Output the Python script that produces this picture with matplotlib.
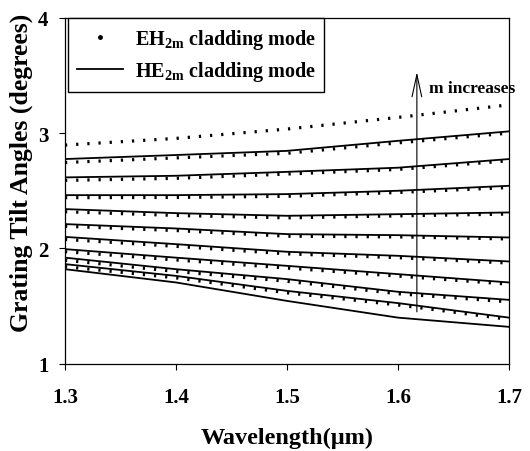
import matplotlib.pyplot as plt
from matplotlib.lines import Line2D

plt.rcParams['font.family'] = 'Liberation Serif'
plt.rcParams['font.weight'] = 'bold'
plt.rcParams['mathtext.fontset'] = 'custom'
plt.rcParams['mathtext.rm'] = 'Liberation Serif:bold'
plt.rcParams['mathtext.bf'] = 'Liberation Serif:bold'

# Wavelength (um) and grating tilt angles (degrees)
wavelength = [1.3, 1.4, 1.5, 1.6, 1.7]

he_modes = [
    [2.775, 2.810, 2.846, 2.933, 3.015],
    [2.616, 2.630, 2.664, 2.700, 2.775],
    [2.462, 2.462, 2.471, 2.500, 2.543],
    [2.341, 2.306, 2.283, 2.297, 2.312],
    [2.211, 2.173, 2.124, 2.115, 2.095],
    [2.100, 2.037, 1.971, 1.936, 1.887],
    [1.994, 1.920, 1.849, 1.777, 1.705],
    [1.920, 1.820, 1.734, 1.624, 1.554],
    [1.864, 1.762, 1.632, 1.526, 1.400],
    [1.820, 1.705, 1.545, 1.400, 1.320],
]

eh_modes = [
    [2.896, 2.954, 3.035, 3.136, 3.245],
    [2.745, 2.785, 2.825, 2.915, 3.000],
    [2.590, 2.608, 2.645, 2.685, 2.760],
    [2.440, 2.442, 2.452, 2.485, 2.528],
    [2.318, 2.286, 2.265, 2.282, 2.298],
    [2.192, 2.155, 2.106, 2.100, 2.082],
    [2.078, 2.018, 1.953, 1.920, 1.873],
    [1.972, 1.900, 1.830, 1.760, 1.690],
    [1.898, 1.800, 1.715, 1.607, 1.537],
    [1.842, 1.745, 1.615, 1.510, 1.385],
]

xticks = [1.3, 1.4, 1.5, 1.6, 1.7]
yticks = [1, 2, 3, 4]

fig = plt.figure(figsize=(5.3, 4.52), dpi=100)
ax = fig.add_axes([0.1226, 0.193, 0.8378, 0.7655])

for angles in he_modes:
    ax.plot(wavelength, angles, color='black', linewidth=1.3)
for angles in eh_modes:
    ax.plot(wavelength, angles, color='black', linewidth=2.3,
            linestyle=(0, (0.7, 2.8)))

# "m increases" arrow
ax.annotate('', xy=(1.617, 3.53), xytext=(1.617, 1.45),
            arrowprops=dict(arrowstyle='->,head_length=1.6,head_width=0.35',
                            mutation_scale=10, lw=0.8, color='black',
                            shrinkA=0, shrinkB=0))
ax.text(1.628, 3.356, 'm increases', fontsize=12.5, fontweight='bold', va='baseline')

ax.set_xlim(1.3, 1.7)
ax.set_ylim(1, 4)
ax.set_xticks(xticks)
ax.set_yticks(yticks)
ax.tick_params(direction='out', length=4, width=0.8, labelsize=15)
ax.tick_params(axis='x', pad=13)
ax.tick_params(axis='y', pad=8)
for spine in ax.spines.values():
    spine.set_linewidth(0.9)

ax.set_xlabel('Wavelength(\u03bcm)', fontsize=17.5, fontweight='bold')
ax.xaxis.set_label_coords(0.5, -0.183)
ax.set_ylabel('Grating Tilt Angles (degrees)', fontsize=18.5, fontweight='bold')
ax.yaxis.set_label_coords(-0.072, 0.555)

handles = [Line2D([], [], color='black', marker='o', markersize=2.5, linestyle='none'),
           Line2D([], [], color='black', linewidth=1.3)]
labels = [r'EH$\mathbf{_{2m}}$ cladding mode', r'HE$\mathbf{_{2m}}$ cladding mode']
leg = ax.legend(handles, labels, loc='upper left', bbox_to_anchor=(0.007, 1.0),
                fontsize=14.5, frameon=True, fancybox=False, edgecolor='black',
                framealpha=1, borderaxespad=0, handlelength=2.3,
                handletextpad=0.55, borderpad=0.45, labelspacing=0.4)
leg.get_frame().set_linewidth(1.0)

fig.savefig('out.png', dpi=100)
